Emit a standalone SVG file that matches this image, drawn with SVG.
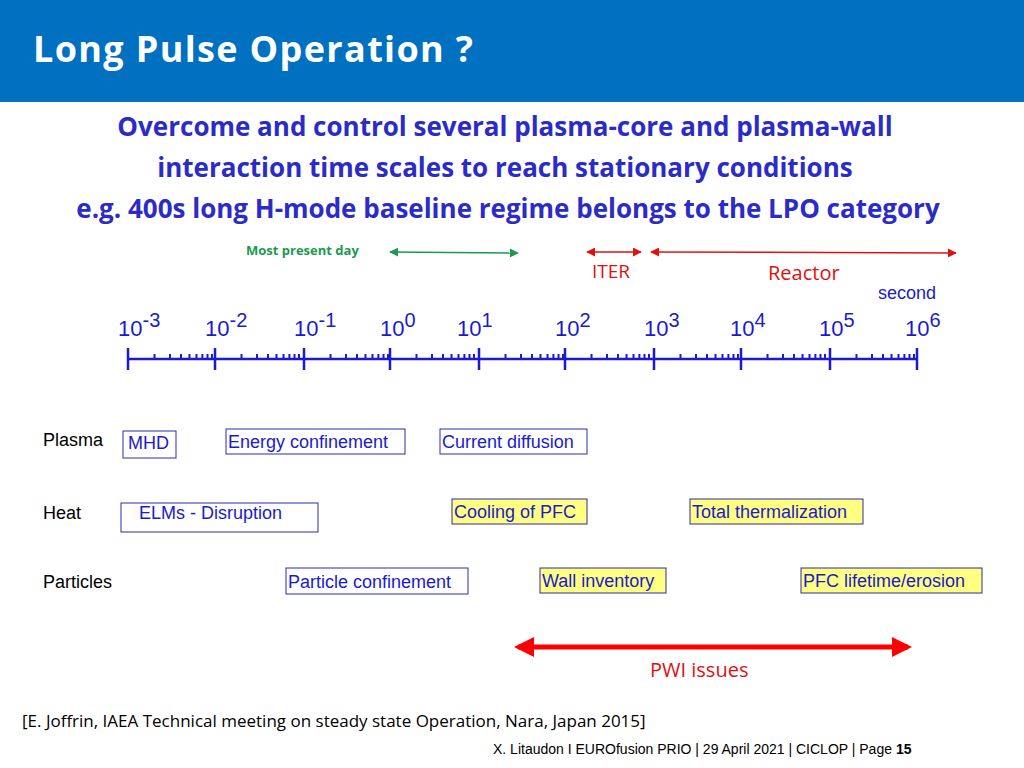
<svg xmlns="http://www.w3.org/2000/svg" width="1024" height="768" viewBox="0 0 1024 768">
<defs>
<style>
.t{font-family:"Liberation Sans",Arial,sans-serif;font-size:18px;fill:#000}
.ax{font-family:"Liberation Sans",Arial,sans-serif;font-size:22px;fill:#1a1ad0}
.sup{font-size:20px}
.b{fill:#fff;stroke:#2a2ab0;stroke-width:1}
.y{fill:#ffff80;stroke:#2a2ab0;stroke-width:1}
.bt{font-family:"Liberation Sans",Arial,sans-serif;font-size:18px;fill:#1a1ad0}
.sub{font-family:"Open Sans","Liberation Sans",sans-serif;font-weight:bold;font-size:26px;fill:#2b2bc8;text-anchor:middle}
</style>
<marker id="ag" viewBox="0 0 10 10" refX="9" refY="5" markerWidth="6" markerHeight="6" orient="auto-start-reverse"><path d="M0,0L10,5L0,10z" fill="#1a9a50"/></marker>
<marker id="ar" viewBox="0 0 10 10" refX="9" refY="5" markerWidth="6" markerHeight="6" orient="auto-start-reverse"><path d="M0,0L10,5L0,10z" fill="#e01010"/></marker>
<marker id="ab" viewBox="0 0 10 10" refX="8" refY="5" markerWidth="4" markerHeight="4" orient="auto-start-reverse"><path d="M0,0L10,5L0,10z" fill="#ff0000"/></marker>
</defs>
<rect x="0" y="0" width="1024" height="102" fill="#0070c0"/>
<text x="33" y="62" font-family="Open Sans,Liberation Sans,sans-serif" font-weight="bold" font-size="36" fill="#fff" textLength="440">Long Pulse Operation  ?</text>
<text class="sub" x="505" y="136">Overcome and control several plasma-core and plasma-wall</text>
<text class="sub" x="505" y="177">interaction time scales to reach stationary conditions</text>
<text class="sub" x="508" y="218">e.g.  400s long H-mode baseline regime belongs to the LPO category</text>

<g id="connectors">
<line x1="390" y1="252" x2="518" y2="253" stroke="#1a9a50" stroke-width="1.5" marker-start="url(#ag)" marker-end="url(#ag)"/>
<line x1="587" y1="252" x2="641" y2="252" stroke="#e01010" stroke-width="1.5" marker-start="url(#ar)" marker-end="url(#ar)"/>
<line x1="651" y1="252" x2="956" y2="253" stroke="#e01010" stroke-width="1.5" marker-start="url(#ar)" marker-end="url(#ar)"/>
<line x1="518" y1="647" x2="908" y2="647" stroke="#ff0000" stroke-width="5" marker-start="url(#ab)" marker-end="url(#ab)"/>
</g>
<text x="246" y="255" font-family="Open Sans,Liberation Sans,sans-serif" font-weight="bold" font-size="13" fill="#1a9a50">Most present day</text>
<text x="592" y="278" font-family="Open Sans,Liberation Sans,sans-serif" font-size="19" fill="#e01010">ITER</text>
<text x="768" y="280" font-family="Open Sans,Liberation Sans,sans-serif" font-size="20" fill="#e01010">Reactor</text>
<text x="878" y="299" font-family="Liberation Sans,sans-serif" font-size="18" fill="#1a1ad0">second</text>

<g id="axis" stroke="#1a1ad0" stroke-width="2.5" fill="none">
<line x1="128" y1="359" x2="917" y2="359"/>
<path d="M128 348v22M215 348v22M304 348v22M390 348v22M479 348v22M565 348v22M654 348v22M741 348v22M830 348v22M917 348v22"/>
<path stroke-width="2" d="M154.5 354v5m15.5 -5v5m11 -5v5m8.5 -5v5m7 -5v5m5.9 -5v5m5.1 -5v5m4.5 -5v5
M241.5 354v5m15.5 -5v5m11 -5v5m8.5 -5v5m7 -5v5m5.9 -5v5m5.1 -5v5m4.5 -5v5
M330.5 354v5m15.5 -5v5m11 -5v5m8.5 -5v5m7 -5v5m5.9 -5v5m5.1 -5v5m4.5 -5v5
M416.5 354v5m15.5 -5v5m11 -5v5m8.5 -5v5m7 -5v5m5.9 -5v5m5.1 -5v5m4.5 -5v5
M505.5 354v5m15.5 -5v5m11 -5v5m8.5 -5v5m7 -5v5m5.9 -5v5m5.1 -5v5m4.5 -5v5
M591.5 354v5m15.5 -5v5m11 -5v5m8.5 -5v5m7 -5v5m5.9 -5v5m5.1 -5v5m4.5 -5v5
M680.5 354v5m15.5 -5v5m11 -5v5m8.5 -5v5m7 -5v5m5.9 -5v5m5.1 -5v5m4.5 -5v5
M767.5 354v5m15.5 -5v5m11 -5v5m8.5 -5v5m7 -5v5m5.9 -5v5m5.1 -5v5m4.5 -5v5
M856.5 354v5m15.5 -5v5m11 -5v5m8.5 -5v5m7 -5v5m5.9 -5v5m5.1 -5v5m4.5 -5v5"/>
</g>
<g class="ax">
<text x="118" y="336">10<tspan class="sup" dy="-9">-3</tspan></text>
<text x="205" y="336">10<tspan class="sup" dy="-9">-2</tspan></text>
<text x="294" y="336">10<tspan class="sup" dy="-9">-1</tspan></text>
<text x="380" y="336">10<tspan class="sup" dy="-9">0</tspan></text>
<text x="457" y="336">10<tspan class="sup" dy="-9">1</tspan></text>
<text x="555" y="336">10<tspan class="sup" dy="-9">2</tspan></text>
<text x="644" y="336">10<tspan class="sup" dy="-9">3</tspan></text>
<text x="730" y="336">10<tspan class="sup" dy="-9">4</tspan></text>
<text x="819" y="336">10<tspan class="sup" dy="-9">5</tspan></text>
<text x="905" y="336">10<tspan class="sup" dy="-9">6</tspan></text>
</g>

<text class="t" x="43" y="446">Plasma</text>
<text class="t" x="43" y="519">Heat</text>
<text class="t" x="43" y="588">Particles</text>

<g id="mhd"><rect class="b" x="123" y="431" width="53" height="27"/><text class="bt" x="128" y="449">MHD</text></g>
<g id="energy"><rect class="b" x="226" y="429" width="179" height="25"/><text class="bt" x="228" y="448">Energy confinement</text></g>
<g id="current"><rect class="b" x="440" y="429" width="147" height="25"/><text class="bt" x="442" y="448">Current diffusion</text></g>
<g id="elms"><rect class="b" x="121" y="503" width="197" height="29"/><text class="bt" x="139" y="519">ELMs - Disruption</text></g>
<g id="cooling"><rect class="y" x="452" y="499" width="135" height="25"/><text class="bt" x="454" y="518">Cooling of PFC</text></g>
<g id="thermal"><rect class="y" x="690" y="499" width="173" height="25"/><text class="bt" x="692" y="518">Total thermalization</text></g>
<g id="partconf"><rect class="b" x="286" y="568" width="182" height="26"/><text class="bt" x="288" y="588">Particle confinement</text></g>
<g id="wall"><rect class="y" x="540" y="568" width="126" height="25"/><text class="bt" x="542" y="587">Wall inventory</text></g>
<g id="pfc"><rect class="y" x="801" y="568" width="181" height="25"/><text class="bt" x="803" y="587">PFC lifetime/erosion</text></g>

<text x="650" y="677" font-family="Open Sans,Liberation Sans,sans-serif" font-size="20" fill="#e01010">PWI issues</text>
<text x="22" y="727" font-family="Open Sans,Liberation Sans,sans-serif" font-size="17" fill="#000">[E. Joffrin, IAEA Technical meeting on steady state Operation, Nara, Japan 2015]</text>
<text x="493" y="754" font-family="Liberation Sans,sans-serif" font-size="14" fill="#000">X. Litaudon I EUROfusion PRIO | 29 April  2021 | CICLOP | Page <tspan font-weight="bold">15</tspan></text>
</svg>
